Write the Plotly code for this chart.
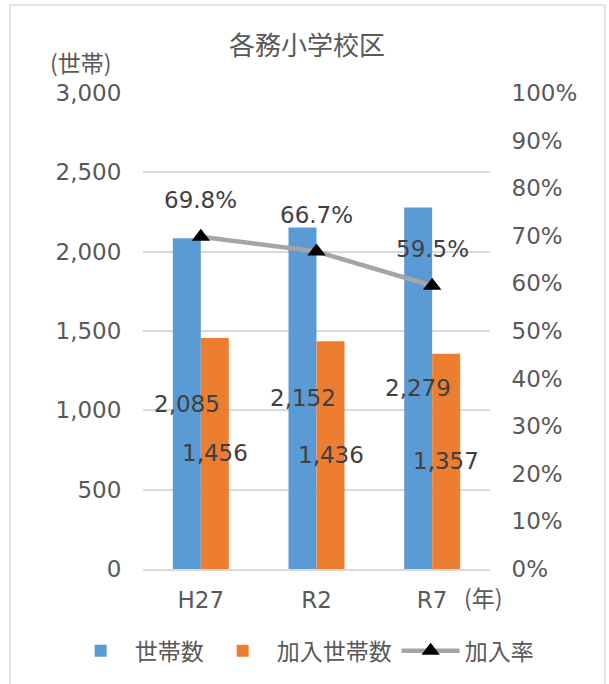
import plotly.graph_objects as go

categories = ["H27", "R2", "R7"]
households = [2085, 2152, 2279]
joined = [1456, 1436, 1357]
rate = [0.698, 0.667, 0.595]
rate_labels = ["69.8%", "66.7%", "59.5%"]

FONT = "DejaVu Sans, Noto Sans CJK JP"
CJK = "Noto Sans CJK JP"
TICK = "#595959"
LAB = "#404040"
FS = 23

fig = go.Figure()
fig.add_trace(go.Bar(x=categories, y=households, name="世帯数",
                     marker_color="#5B9BD5", marker_line_width=0))
fig.add_trace(go.Bar(x=categories, y=joined, name="加入世帯数",
                     marker_color="#ED7D31", marker_line_width=0))
fig.add_trace(go.Scatter(
    x=categories, y=rate, name="加入率", yaxis="y2", mode="lines+markers",
    line=dict(color="#A5A5A5", width=4.5),
    marker=dict(symbol="triangle-up", color="black", size=16),
))

# data labels (centred in each bar)
for c, v in zip(categories, households):
    fig.add_annotation(x=c, y=v / 2, text=f"{v:,}", showarrow=False, xshift=-14,
                       font=dict(family=FONT, size=FS, color=LAB))
for c, v in zip(categories, joined):
    fig.add_annotation(x=c, y=v / 2, text=f"{v:,}", showarrow=False, xshift=14,
                       font=dict(family=FONT, size=FS, color=LAB))
for c, r, t in zip(categories, rate, rate_labels):
    fig.add_annotation(x=c, y=r, yref="y2", text=t, showarrow=False,
                       yshift=37, font=dict(family=FONT, size=FS, color=LAB))

fig.add_annotation(x=-0.18, y=1.065, xref="paper", yref="paper", text="(世帯)",
                   showarrow=False, xanchor="center", yanchor="middle",
                   font=dict(family=CJK, size=FS, color=TICK))
fig.add_annotation(x=0.982, y=-0.059, xref="paper", yref="paper", text="(年)",
                   showarrow=False, xanchor="center", yanchor="middle",
                   font=dict(family=CJK, size=FS, color=TICK))

fig.add_shape(type="rect", xref="paper", yref="paper",
              x0=-0.383, x1=1.331, y0=-0.3, y1=1.185,
              line=dict(color="#D9D9D9", width=1.5), layer="below")

fig.update_layout(
    width=609, height=684,
    margin=dict(l=143, r=119, t=93, b=115, autoexpand=False),
    paper_bgcolor="white", plot_bgcolor="white",
    font=dict(family=FONT, size=FS, color=TICK),
    title=dict(text="各務小学校区", x=0.504, xref="container", y=0.933,
               yref="container", xanchor="center", yanchor="middle",
               font=dict(family=CJK, size=26, color=TICK)),
    barmode="group", bargap=0.516, bargroupgap=0,
    showlegend=True,
    legend=dict(orientation="h", x=-0.22, y=-0.172, xref="paper",
                yref="paper", xanchor="left", yanchor="middle",
                itemwidth=58,
                font=dict(family=CJK, size=FS, color=TICK)),
    xaxis=dict(showline=True, linecolor="#D9D9D9", linewidth=1.5, automargin=False,
               ticks="outside", ticklen=10, tickcolor="rgba(0,0,0,0)",
               tickfont=dict(family=FONT, size=FS, color=TICK)),
    yaxis=dict(range=[0, 3000], dtick=500, tickformat=",", showgrid=True,
               gridcolor="#D9D9D9", gridwidth=1.5, zeroline=False, automargin=False,
               ticks="outside", ticklen=16, tickcolor="rgba(0,0,0,0)",
               tickfont=dict(family=FONT, size=FS, color=TICK)),
    yaxis2=dict(range=[0, 1], dtick=0.1, tickformat=".0%", overlaying="y",
                side="right", showgrid=False, zeroline=False, automargin=False,
                ticks="outside", ticklen=16, tickcolor="rgba(0,0,0,0)",
                tickfont=dict(family=FONT, size=FS, color=TICK)),
)

fig.write_html("out.html", config={"displayModeBar": False},
               post_script="document.body.style.margin='0';")
